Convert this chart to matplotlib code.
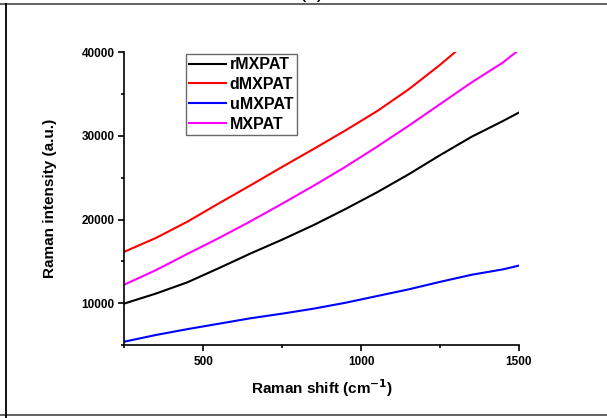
import matplotlib.pyplot as plt
from matplotlib.lines import Line2D
from matplotlib.ticker import MultipleLocator

plt.rcParams['font.family'] = ['Liberation Sans', 'DejaVu Sans']
plt.rcParams['font.weight'] = 'bold'

# values
shift = [250, 350, 450, 550, 650, 750, 850, 950, 1050, 1150, 1250, 1350, 1450, 1500]

int_rmxpat = [9960, 11150, 12500, 14200, 15950, 17600, 19350, 21250, 23250, 25400, 27700, 29900, 31800, 32800]
int_umxpat = [5400, 6200, 6900, 7550, 8200, 8750, 9350, 10050, 10850, 11650, 12550, 13400, 14050, 14500]

# these two run past the top of the axes
shift_d = [250, 350, 450, 550, 650, 750, 850, 950, 1050, 1150, 1250, 1300]
int_dmxpat = [16150, 17800, 19750, 21950, 24100, 26300, 28450, 30650, 32950, 35550, 38500, 40100]

shift_m = [250, 350, 450, 550, 650, 750, 850, 950, 1050, 1150, 1250, 1350, 1450, 1490, 1500]
int_mxpat = [12220, 13950, 15900, 17800, 19800, 21900, 24050, 26300, 28700, 31200, 33800, 36400, 38800, 40000, 40300]

fig = plt.figure(figsize=(6.07, 4.18), dpi=100)
ax = fig.add_axes([0.2048, 0.1746, 0.6502, 0.7003])

ax.plot(shift, int_rmxpat, color='black', lw=1.5, label='rMXPAT')
ax.plot(shift_d, int_dmxpat, color='#ff0000', lw=1.5, label='dMXPAT')
ax.plot(shift, int_umxpat, color='#0000ff', lw=1.5, label='uMXPAT')
ax.plot(shift_m, int_mxpat, color='#ff00ff', lw=1.5, label='MXPAT')

ax.set_xlim(250, 1500)
ax.set_ylim(5000, 40000)
ax.xaxis.set_major_locator(MultipleLocator(500))
ax.xaxis.set_minor_locator(MultipleLocator(250))
ax.yaxis.set_major_locator(MultipleLocator(10000))
ax.yaxis.set_minor_locator(MultipleLocator(5000))

for s in ['top', 'right']:
    ax.spines[s].set_visible(False)
for s in ['left', 'bottom']:
    ax.spines[s].set_linewidth(1.2)

ax.tick_params(which='major', direction='out', length=4, width=1.2, labelsize=8.5, pad=3)
ax.tick_params(which='minor', direction='out', length=2.5, width=1.2)
ax.tick_params(axis='x', which='major', pad=4)

ax.set_xlabel('Raman shift (cm$^{\\mathbf{-1}}$)', fontsize=11, fontweight='bold', labelpad=6.5)
ax.set_ylabel('Raman intensity (a.u.)', fontsize=11, fontweight='bold', labelpad=17.5)

leg = ax.legend(loc='upper left', bbox_to_anchor=(0.156, 0.994), fontsize=11.5,
                frameon=True, fancybox=False, borderaxespad=0, borderpad=0.2,
                handlelength=2.3, handletextpad=0.25, labelspacing=0.3)
leg.get_frame().set_edgecolor('#444444')
leg.get_frame().set_linewidth(1.0)
for t in leg.get_texts():
    t.set_fontweight('bold')

# page frame lines around the figure
fig.add_artist(Line2D([0, 1], [1 - 3.5 / 418, 1 - 3.5 / 418], color='#555555', lw=1.3))
fig.add_artist(Line2D([0, 1], [1 - 414.5 / 418, 1 - 414.5 / 418], color='#555555', lw=1.3))
fig.add_artist(Line2D([6 / 607, 6 / 607], [0, 1 - 3.5 / 418], color='black', lw=1.3))
fig.text(312 / 607, 1 - 2 / 418, '(c)', fontsize=16, ha='center', va='bottom', fontweight='normal')

fig.savefig('out.png', dpi=100)
